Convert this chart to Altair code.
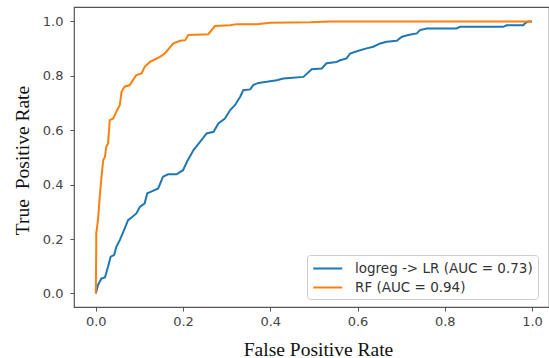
import altair as alt
import pandas as pd

# ROC curve for logistic regression (blue)
lr_fpr = [0.0, 0.005, 0.013, 0.021, 0.028, 0.034, 0.042, 0.047, 0.055, 0.063, 0.074, 0.082,
          0.093, 0.101, 0.112, 0.118, 0.127, 0.143, 0.154, 0.166, 0.185, 0.200, 0.209, 0.224,
          0.239, 0.254, 0.270, 0.281, 0.296, 0.308, 0.319, 0.331, 0.338, 0.354, 0.361, 0.373,
          0.392, 0.415, 0.430, 0.445, 0.476, 0.495, 0.518, 0.529, 0.552, 0.560, 0.575, 0.583,
          0.602, 0.621, 0.636, 0.652, 0.667, 0.690, 0.701, 0.716, 0.736, 0.743, 0.759, 0.827,
          0.835, 0.934, 0.942, 0.980, 0.984, 0.991, 1.0]
lr_tpr = [0.0, 0.031, 0.055, 0.059, 0.098, 0.135, 0.141, 0.171, 0.196, 0.226, 0.269, 0.279,
          0.294, 0.318, 0.331, 0.368, 0.374, 0.386, 0.429, 0.438, 0.438, 0.453, 0.484, 0.527,
          0.557, 0.588, 0.594, 0.625, 0.643, 0.674, 0.692, 0.723, 0.747, 0.750, 0.766, 0.774,
          0.778, 0.784, 0.790, 0.792, 0.796, 0.824, 0.827, 0.846, 0.851, 0.857, 0.864, 0.882,
          0.892, 0.901, 0.907, 0.919, 0.925, 0.929, 0.943, 0.950, 0.956, 0.968, 0.974, 0.974,
          0.980, 0.980, 0.986, 0.986, 0.993, 1.0, 1.0]

# ROC curve for random forest (orange)
rf_fpr = [0.0, 0.001, 0.001, 0.005, 0.009, 0.013, 0.017, 0.021, 0.024, 0.028, 0.032, 0.040,
          0.047, 0.051, 0.055, 0.059, 0.066, 0.078, 0.085, 0.093, 0.105, 0.112, 0.124, 0.135,
          0.147, 0.158, 0.166, 0.178, 0.193, 0.205, 0.212, 0.258, 0.273, 0.308, 0.323, 0.369,
          0.400, 0.491, 0.537, 1.0]
rf_tpr = [0.0, 0.171, 0.221, 0.270, 0.355, 0.429, 0.490, 0.502, 0.539, 0.551, 0.637, 0.643,
          0.668, 0.680, 0.692, 0.741, 0.760, 0.766, 0.784, 0.803, 0.809, 0.833, 0.851, 0.860,
          0.870, 0.882, 0.897, 0.919, 0.929, 0.931, 0.950, 0.953, 0.983, 0.986, 0.990, 0.990,
          0.995, 0.997, 1.0, 1.0]

series_names = ["logreg -> LR (AUC = 0.73)", "RF (AUC = 0.94)"]
series_colors = ["#1f77b4", "#ff7f0e"]
tick_vals = [0.0, 0.2, 0.4, 0.6, 0.8, 1.0]

rows = []
for i, (f, t) in enumerate(zip(lr_fpr, lr_tpr)):
    rows.append({"series": series_names[0], "order": i, "fpr": f, "tpr": t})
for i, (f, t) in enumerate(zip(rf_fpr, rf_tpr)):
    rows.append({"series": series_names[1], "order": i, "fpr": f, "tpr": t})
df = pd.DataFrame(rows)

chart = alt.Chart(df).mark_line(strokeWidth=2).encode(
    x=alt.X("fpr:Q",
            scale=alt.Scale(domain=[-0.05, 1.039], nice=False, zero=False),
            axis=alt.Axis(values=tick_vals, format=".1f", title="False Positive Rate",
                          titleX=244, titleY=48, titleBaseline="alphabetic",
                          titleAlign="center")),
    y=alt.Y("tpr:Q",
            scale=alt.Scale(domain=[-0.05, 1.053], nice=False, zero=False),
            axis=alt.Axis(values=tick_vals, format=".1f", title="True\u00a0 Positive Rate",
                          titleX=-52, titleY=153, titleAngle=-90,
                          titleBaseline="middle", titleAlign="center")),
    color=alt.Color("series:N",
                    scale=alt.Scale(domain=series_names, range=series_colors),
                    legend=alt.Legend(orient="none", legendX=233, legendY=248, title=None,
                                      symbolType="M-1,0H3", symbolSize=210,
                                      symbolStrokeWidth=2, labelFont="DejaVu Sans",
                                      labelFontSize=13.5, labelColor="#333333",
                                      labelOffset=26, labelLimit=400,
                                      strokeColor="#cccccc",
                                      fillColor="rgba(255,255,255,0.8)", padding=5,
                                      cornerRadius=3, rowPadding=4)),
    order="order:Q",
).properties(
    width=475, height=300,
    autosize=alt.AutoSizeParams(type="none"),
    padding={"left": 74, "top": 7, "right": 0, "bottom": 51},
).configure_view(
    stroke="#555555", strokeWidth=1.2
).configure_axis(
    grid=False, domain=False, tickSize=4, tickColor="#555555", tickWidth=1,
    labelFont="DejaVu Sans", labelFontSize=13, labelColor="#444444",
    titleFont="Liberation Serif", titleFontSize=19.5, titleFontWeight="normal",
    titleColor="#111111"
).configure_axisX(
    labelPadding=4
).configure_axisY(
    labelPadding=7
)

chart.save("out.html", embed_options={"renderer": "svg", "actions": False})
